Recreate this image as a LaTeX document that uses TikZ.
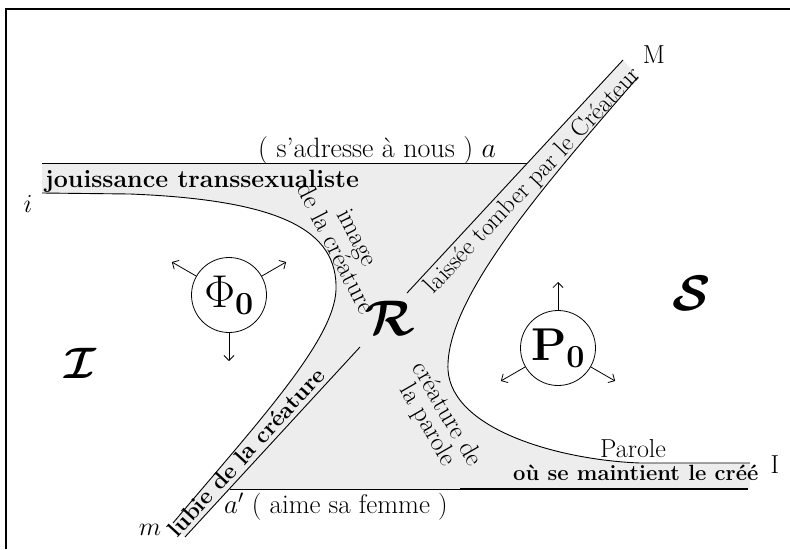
\RequirePackage{fix-cm}
\documentclass[tikz,border=0pt]{standalone}
\usepackage{amsmath}
\usepackage{amssymb}
\usepackage{bm}
\usetikzlibrary{arrows.meta,calc}

\begin{document}
\begin{tikzpicture}[x=1pt,y=-1pt,
    txt/.style={font=\fontsize{26}{22}\selectfont, inner sep=0pt},
    bandtxt/.style={font=\bfseries\fontsize{23}{22}\selectfont, inner sep=0pt},
    lbl/.style={font=\fontsize{26}{26}\selectfont, inner sep=0pt},
    big/.style={font=\fontsize{50}{50}\selectfont, inner sep=0pt},
    pole/.style={circle, draw, thick, minimum size=75pt, inner sep=0pt,
        font=\fontsize{46}{46}\selectfont},
    ray/.style={thick, -{Straight Barb[length=5pt,width=10pt]}},
    rim/.style={line width=0.9pt},
    zone/.style={fill=black!7}]

    \useasboundingbox (0,0) rectangle (790,549);

    % frame
    \draw[line width=1.6pt] (6,549) -- (6,9) -- (790,9);

    % key points
    \coordinate (iTop) at (42,163);
    \coordinate (iLow) at (42,193);
    \coordinate (aEnd) at (527,163);
    \coordinate (Mup) at (623,60);
    \coordinate (Mlow) at (638,77);
    \coordinate (Iup) at (750,463);
    \coordinate (Ilow) at (748,489);
    \coordinate (aLow) at (230,489);
    \coordinate (mLow) at (185,537);
    \coordinate (mUp) at (173,523);
    \coordinate (diagA) at (360,347);
    \coordinate (diagB) at (407,293);

    % shaded field between the two curves
    \fill[zone] (iTop) -- (aEnd) -- (Mup) -- (Mlow)
        .. controls (540,190) and (445,300) .. (448,370)
        .. controls (452,430) and (560,460) .. (640,463) -- (Iup)
        -- (750,489) -- (aLow) -- (mLow) -- (mUp)
        .. controls (260,420) and (334,340) .. (336,290)
        .. controls (338,230) and (280,200) .. (130,194) -- (iLow) -- cycle;

    % straight lines
    \draw[rim] (iTop) -- (aEnd);
    \draw[rim] (aLow) -- (Ilow);
    \draw[line width=1.8pt] (460,489) -- (Ilow);
    \draw[rim] (mLow) -- (diagA);
    \draw[rim] (diagB) -- (Mup);

    % the two curves
    \draw[rim] (iLow) -- (130,194)
        .. controls (280,200) and (338,230) .. (336,290)
        .. controls (334,340) and (260,420) .. (mUp);
    \draw[rim] (Mlow)
        .. controls (540,190) and (445,300) .. (448,370)
        .. controls (452,430) and (560,460) .. (640,463) -- (Iup);

    % end labels
    \node[lbl] (li) at (28,204) {$i$};
    \node[lbl] (lM) at (654,55) {M};
    \node[lbl] (lm) at (150,530) {$m$};
    \node[lbl] (lI) at (775,465) {I};

    % texts along the lines
    \node[txt, font=\fontsize{28}{22}\selectfont, anchor=base west] (adresse) at (258,157) {( s'adresse à nous ) $a$};
    \node[bandtxt, font=\bfseries\fontsize{25}{22}\selectfont, anchor=base west] (jouis) at (45,187) {jouissance transsexualiste};
    \node[txt, font=\fontsize{27}{22}\selectfont, anchor=base west] (aime) at (224,513) {$a'$ ( aime sa femme )};
    \node[txt, anchor=base west] (parole) at (600,457) {Parole};
    \node[bandtxt, font=\bfseries\fontsize{22}{22}\selectfont, anchor=base west] (cree) at (513,480) {où se maintient le créé};
    \node[txt, font=\fontsize{25}{22}\selectfont, rotate=46.5] (tomber) at (533,181) {laissée tomber par le Créateur};
    \node[bandtxt, rotate=47.5] (lubie) at (246,452) {lubie de la créature};
    \node[txt, align=center, rotate=-63] (image) at (347,243) {image\\de la créature};
    \node[txt, align=center, rotate=-60] (creature) at (437,420) {créature de\\la parole};

    % registers
    \node[big] (regR) at (390,318) {$\bm{\mathcal{R}}$};
    \node[big] (regS) at (692,293) {$\bm{\mathcal{S}}$};
    \node[big, font=\fontsize{44}{44}\selectfont] (regI) at (80,363) {$\bm{\mathcal{I}}$};

    % the two poles
    \node[pole] (phi) at (229,295) {$\Phi_{\mathbf{0}}$};
    \node[pole] (pzero) at (558,348) {$\mathbf{P}_{\mathbf{0}}$};
    \foreach \ang in {30,150,270}
        \draw[ray] (phi.\ang) -- ($(phi.center)!66pt!(phi.\ang)$);
    \foreach \ang in {90,210,330}
        \draw[ray] (pzero.\ang) -- ($(pzero.center)!66pt!(pzero.\ang)$);

\end{tikzpicture}
\end{document}
